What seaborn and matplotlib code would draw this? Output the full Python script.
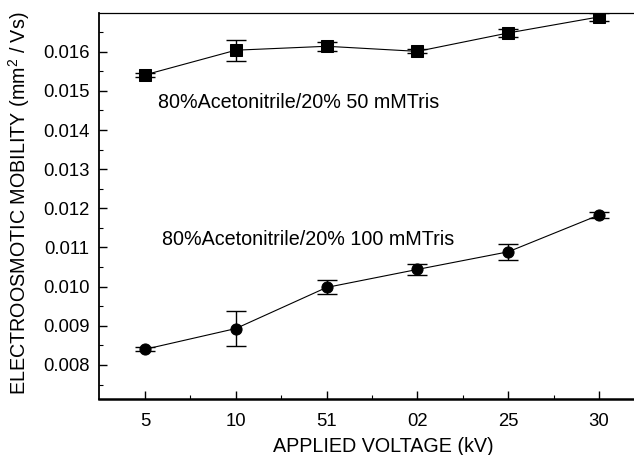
import matplotlib
matplotlib.use("Agg")
import matplotlib.pyplot as plt
import seaborn as sns
import pandas as pd
from matplotlib.ticker import MultipleLocator, FixedLocator

# ---- data ----
voltage_labels = ["5", "10", "51", "02", "25", "30"]
mobility_50mM = [0.01541, 0.01604, 0.01614, 0.01601, 0.01648, 0.01689]
err_50mM = [0.00005, 0.00027, 0.00012, 0.00005, 0.00011, 0.00010]
mobility_100mM = [0.00840, 0.00893, 0.00998, 0.01044, 0.01089, 0.01183]
err_100mM = [0.00005, 0.00044, 0.00018, 0.00014, 0.00020, 0.00008]
label_50mM = "80%Acetonitrile/20% 50 mMTris"
label_100mM = "80%Acetonitrile/20% 100 mMTris"

sns.set_theme(style="ticks")
plt.rcParams["font.family"] = ["Liberation Sans", "DejaVu Sans"]
plt.rcParams["mathtext.fontset"] = "custom"
plt.rcParams["mathtext.rm"] = "Liberation Sans"

pos = list(range(len(voltage_labels)))
df = pd.DataFrame({
    "pos": pos * 2,
    "mobility": mobility_50mM + mobility_100mM,
    "series": [label_50mM] * len(pos) + [label_100mM] * len(pos),
})

fig = plt.figure(figsize=(6.34, 4.55), dpi=100)
ax = fig.add_axes([99 / 634, 1 - 399 / 455, 535 / 634, 386 / 455])

sns.lineplot(data=df, x="pos", y="mobility", hue="series", style="series",
             markers={label_50mM: "s", label_100mM: "o"}, dashes=False,
             palette={label_50mM: "black", label_100mM: "black"},
             markersize=8, linewidth=0.8, markeredgecolor="black",
             legend=False, ax=ax, zorder=3)

ax.errorbar(pos, mobility_50mM, yerr=err_50mM, fmt="none", ecolor="black",
            elinewidth=1.0, capsize=7, capthick=1.0, zorder=2)
ax.errorbar(pos, mobility_100mM, yerr=err_100mM, fmt="none", ecolor="black",
            elinewidth=1.0, capsize=7, capthick=1.0, zorder=2)

ax.set_xlim(-0.507, 5.385)
ax.set_ylim(0.00713, 0.01699)

ax.xaxis.set_major_locator(FixedLocator(pos))
ax.set_xticklabels(voltage_labels)
ax.xaxis.set_minor_locator(FixedLocator([p + 0.5 for p in pos[:-1]]))
ax.yaxis.set_major_locator(MultipleLocator(0.001))
ax.yaxis.set_minor_locator(MultipleLocator(0.0005))
ax.yaxis.set_major_formatter(matplotlib.ticker.FormatStrFormatter("%.3f"))

ax.tick_params(axis="both", which="major", direction="in", length=6, width=1.0,
               labelsize=13.3, color="black", labelcolor="black")
ax.tick_params(axis="both", which="minor", direction="in", length=3, width=0.8,
               color="black")
ax.tick_params(axis="x", which="major", pad=10)
ax.tick_params(axis="y", which="major", pad=7)
ax.tick_params(top=False, right=False, which="both")

ax.spines["right"].set_visible(False)
ax.spines["top"].set_linewidth(0.9)
ax.spines["left"].set_linewidth(1.3)
ax.spines["bottom"].set_linewidth(1.8)
for s in ax.spines.values():
    s.set_color("black")

ax.set_xlabel("APPLIED VOLTAGE (kV)", fontsize=14.2, color="black")
ax.set_ylabel("ELECTROOSMOTIC MOBILITY (mm$^2$ / Vs)", fontsize=14.2, color="black")
ax.xaxis.set_label_coords(0.531, -0.098)
ax.yaxis.set_label_coords(-0.125, 0.508)

ax.text(0.110, 0.769, label_50mM, transform=ax.transAxes, fontsize=14.2,
        va="center", ha="left", color="black")
ax.text(0.118, 0.412, label_100mM, transform=ax.transAxes, fontsize=14.2,
        va="center", ha="left", color="black")

fig.savefig("out.png", dpi=100)
